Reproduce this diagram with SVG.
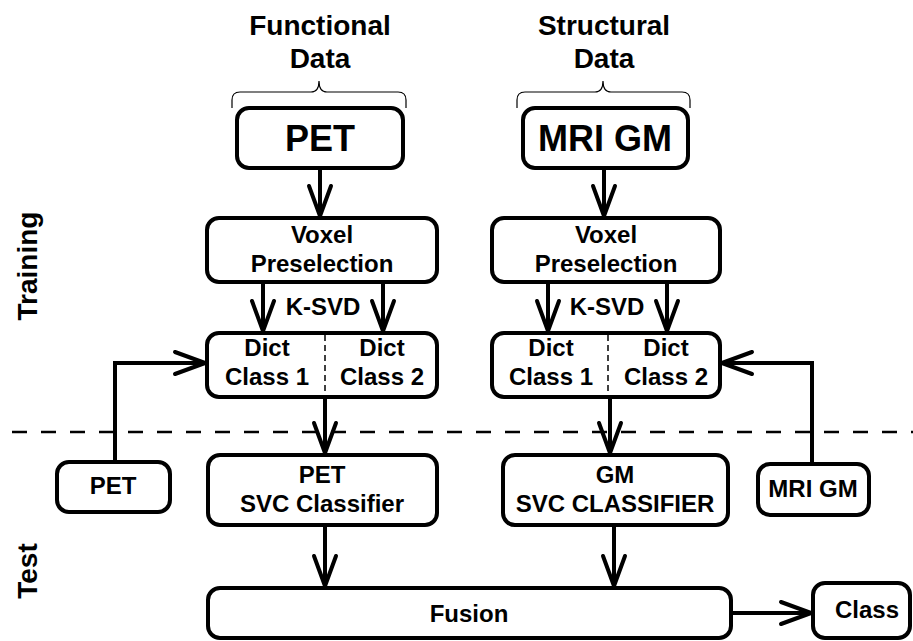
<svg xmlns="http://www.w3.org/2000/svg" width="913" height="641" viewBox="0 0 913 641">
  <style>
    .box { fill: #fff; stroke: #000; stroke-width: 4; }
    .lbl { font-family: "Liberation Sans", Arial, sans-serif; font-weight: bold; fill: #000; text-anchor: middle; }
    .t24 { font-size: 24px; }
    .t28 { font-size: 28px; }
    .t36 { font-size: 36px; }
    .wire { fill: none; stroke: #000; stroke-width: 4; }
    .brace { fill: none; stroke: #000; stroke-width: 1.2; }
    .split { stroke: #000; stroke-width: 1.5; stroke-dasharray: 6 4; }
  </style>
  <defs>
    <marker id="arr" markerUnits="userSpaceOnUse" markerWidth="44" markerHeight="30" viewBox="-36 -15 44 30" refX="0" refY="0" orient="auto">
      <path d="M-30,-11 L0,0 L-30,11" fill="none" stroke="#000" stroke-width="4" stroke-linejoin="round" stroke-linecap="round"/>
    </marker>
  </defs>

  <rect width="913" height="641" fill="#fff"/>

  <!-- phase labels -->
  <text class="lbl t28" transform="translate(37,266) rotate(-90)">Training</text>
  <text class="lbl t28" transform="translate(37,571) rotate(-90)">Test</text>

  <!-- training / test boundary -->
  <line x1="12" y1="432" x2="913" y2="432" stroke="#000" stroke-width="2.5" stroke-dasharray="15 14"/>

  <!-- modality headings -->
  <g id="head-functional">
    <text class="lbl t28" x="320" y="35">Functional</text>
    <text class="lbl t28" x="320" y="68">Data</text>
    <path class="brace" d="M232,108 V100 Q232,92 240,92 H311 Q319,92 319,81 Q319,92 327,92 H398 Q406,92 406,100 V108"/>
  </g>
  <g id="head-structural">
    <text class="lbl t28" x="604" y="35">Structural</text>
    <text class="lbl t28" x="604" y="68">Data</text>
    <path class="brace" d="M517,108 V100 Q517,92 525,92 H595 Q603,92 603,81 Q603,92 611,92 H682 Q690,92 690,100 V108"/>
  </g>

  <!-- connectors -->
  <g id="connectors">
    <line class="wire" x1="320" y1="168" x2="320" y2="216" marker-end="url(#arr)"/>
    <line class="wire" x1="604" y1="168" x2="604" y2="216" marker-end="url(#arr)"/>
    <line class="wire" x1="263" y1="282" x2="263" y2="331" marker-end="url(#arr)"/>
    <line class="wire" x1="383" y1="282" x2="383" y2="331" marker-end="url(#arr)"/>
    <line class="wire" x1="548" y1="282" x2="548" y2="331" marker-end="url(#arr)"/>
    <line class="wire" x1="667" y1="282" x2="667" y2="331" marker-end="url(#arr)"/>
    <line class="wire" x1="325" y1="397" x2="325" y2="453" marker-end="url(#arr)"/>
    <line class="wire" x1="610" y1="397" x2="610" y2="453" marker-end="url(#arr)"/>
    <polyline class="wire" points="115,462 115,363 205,363" marker-end="url(#arr)"/>
    <polyline class="wire" points="812,464 812,363 722,363" marker-end="url(#arr)"/>
    <line class="wire" x1="325" y1="525" x2="325" y2="586" marker-end="url(#arr)"/>
    <line class="wire" x1="614" y1="525" x2="614" y2="586" marker-end="url(#arr)"/>
    <line class="wire" x1="731" y1="613" x2="811" y2="613" marker-end="url(#arr)"/>
  </g>

  <!-- training nodes -->
  <g id="pet-source">
    <rect class="box" x="237" y="108" width="166" height="60" rx="12"/>
    <text class="lbl t36" x="320" y="151">PET</text>
  </g>
  <g id="mri-source">
    <rect class="box" x="523" y="108" width="165" height="60" rx="12"/>
    <text class="lbl t36" x="605" y="151">MRI GM</text>
  </g>
  <g id="pet-voxel">
    <rect class="box" x="207" y="218" width="230" height="64" rx="12"/>
    <text class="lbl t24" x="322" y="243">Voxel</text>
    <text class="lbl t24" x="322" y="272">Preselection</text>
  </g>
  <g id="mri-voxel">
    <rect class="box" x="492" y="218" width="228" height="64" rx="12"/>
    <text class="lbl t24" x="606" y="243">Voxel</text>
    <text class="lbl t24" x="606" y="272">Preselection</text>
  </g>
  <text class="lbl t24" x="323" y="315">K-SVD</text>
  <text class="lbl t24" x="607" y="315">K-SVD</text>
  <g id="pet-dict">
    <rect class="box" x="207" y="333" width="230" height="64" rx="12"/>
    <line class="split" x1="325" y1="335" x2="325" y2="395"/>
    <text class="lbl t24" x="267" y="356">Dict</text>
    <text class="lbl t24" x="267" y="385">Class 1</text>
    <text class="lbl t24" x="382" y="356">Dict</text>
    <text class="lbl t24" x="382" y="385">Class 2</text>
  </g>
  <g id="mri-dict">
    <rect class="box" x="492" y="333" width="228" height="64" rx="12"/>
    <line class="split" x1="608" y1="335" x2="608" y2="395"/>
    <text class="lbl t24" x="551" y="356">Dict</text>
    <text class="lbl t24" x="551" y="385">Class 1</text>
    <text class="lbl t24" x="666" y="356">Dict</text>
    <text class="lbl t24" x="666" y="385">Class 2</text>
  </g>

  <!-- test nodes -->
  <g id="pet-test">
    <rect class="box" x="57" y="462" width="113" height="50" rx="12"/>
    <text class="lbl t24" x="113" y="494">PET</text>
  </g>
  <g id="mri-test">
    <rect class="box" x="758" y="464" width="111" height="51" rx="12"/>
    <text class="lbl t24" x="813" y="497">MRI GM</text>
  </g>
  <g id="pet-svc">
    <rect class="box" x="208" y="455" width="229" height="70" rx="12"/>
    <text class="lbl t24" x="322" y="483">PET</text>
    <text class="lbl t24" x="322" y="512">SVC Classifier</text>
  </g>
  <g id="gm-svc">
    <rect class="box" x="503" y="455" width="225" height="70" rx="12"/>
    <text class="lbl t24" x="615" y="483">GM</text>
    <text class="lbl t24" x="615" y="512">SVC CLASSIFIER</text>
  </g>
  <g id="fusion">
    <rect class="box" x="208" y="588" width="523" height="50" rx="12"/>
    <text class="lbl t24" x="469" y="622">Fusion</text>
  </g>
  <g id="class">
    <rect class="box" x="813" y="583" width="97" height="55" rx="12"/>
    <text class="lbl t24" x="867" y="618">Class</text>
  </g>
</svg>
